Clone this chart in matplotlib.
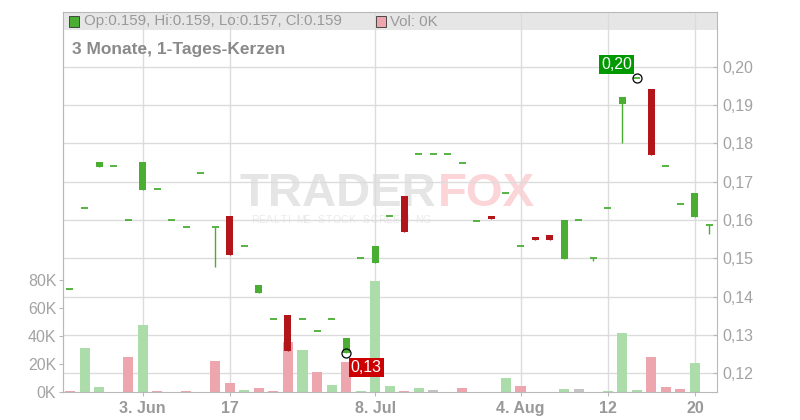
import numpy as np
import matplotlib
matplotlib.use("Agg")
import matplotlib.pyplot as plt
from matplotlib.patches import Rectangle
from matplotlib import transforms
from matplotlib.ticker import FuncFormatter

plt.rcParams['font.family'] = ['Liberation Sans', 'DejaVu Sans']

# --- data ---
opens = [0.1419, 0.1630, 0.1738, 0.1740, 0.1600, 0.1678, 0.1680, 0.1600, 0.1581, 0.1722,
         0.1581, 0.1610, 0.1531, 0.1410, 0.1341, 0.1352, 0.1341, 0.1310, 0.1341, 0.1252,
         0.1500, 0.1489, 0.1610, 0.1663, 0.1771, 0.1771, 0.1771, 0.1750, 0.1597, 0.1610,
         0.1670, 0.1531, 0.1556, 0.1561, 0.1498, 0.1599, 0.1500, 0.1630, 0.1902, 0.1970,
         0.1942, 0.1740, 0.1641, 0.1608, 0.1586]
closes = [0.1419, 0.1630, 0.1751, 0.1740, 0.1600, 0.1751, 0.1680, 0.1600, 0.1581, 0.1722,
          0.1581, 0.1509, 0.1531, 0.1430, 0.1341, 0.1259, 0.1341, 0.1310, 0.1341, 0.1292,
          0.1500, 0.1532, 0.1610, 0.1569, 0.1771, 0.1771, 0.1771, 0.1750, 0.1597, 0.1602,
          0.1670, 0.1531, 0.1548, 0.1548, 0.1600, 0.1599, 0.1500, 0.1630, 0.1921, 0.1970,
          0.1770, 0.1740, 0.1641, 0.1670, 0.1586]
highs = [0.1419, 0.1630, 0.1751, 0.1740, 0.1600, 0.1751, 0.1680, 0.1600, 0.1581, 0.1722,
         0.1581, 0.1610, 0.1531, 0.1430, 0.1341, 0.1352, 0.1341, 0.1310, 0.1341, 0.1292,
         0.1500, 0.1532, 0.1610, 0.1663, 0.1771, 0.1771, 0.1771, 0.1750, 0.1597, 0.1610,
         0.1670, 0.1531, 0.1556, 0.1561, 0.1600, 0.1599, 0.1500, 0.1630, 0.1921, 0.1970,
         0.1942, 0.1740, 0.1641, 0.1670, 0.1586]
lows = [0.1419, 0.1630, 0.1738, 0.1740, 0.1600, 0.1678, 0.1680, 0.1600, 0.1581, 0.1722,
        0.1478, 0.1509, 0.1531, 0.1410, 0.1341, 0.1259, 0.1341, 0.1310, 0.1341, 0.1252,
        0.1500, 0.1489, 0.1610, 0.1569, 0.1771, 0.1771, 0.1771, 0.1750, 0.1597, 0.1602,
        0.1670, 0.1531, 0.1548, 0.1548, 0.1498, 0.1599, 0.1494, 0.1630, 0.1800, 0.1970,
        0.1770, 0.1740, 0.1641, 0.1608, 0.1564]
volumes = [1.0, 31.6, 3.8, 0, 25.2, 48.0, 1.0, 0, 1.0, 0,
           22.4, 6.7, 1.7, 3.0, 1.0, 36.0, 30.2, 14.5, 5.2, 21.6,
           1.0, 79.5, 4.5, 1.0, 3.0, 1.7, 0, 3.0, 0, 0,
           10.2, 4.5, 0, 0, 2.3, 2.3, 0, 1.0, 42.4, 1.7,
           25.2, 3.8, 2.3, 21.0, 0]
volumes = [v * 1000 for v in volumes]
# u = up, d = down, n = unchanged
vol_dir = ['d', 'u', 'u', 'u', 'd', 'u', 'd', 'u', 'd', 'u',
           'd', 'd', 'u', 'd', 'd', 'd', 'u', 'd', 'u', 'd',
           'u', 'u', 'u', 'd', 'u', 'n', 'u', 'd', 'u', 'u',
           'u', 'd', 'u', 'u', 'u', 'n', 'u', 'u', 'u', 'u',
           'd', 'd', 'd', 'u', 'u']
tick_pos = [5, 11, 21, 31, 37, 43]
tick_labels = ['3. Jun', '17', '8. Jul', '4. Aug', '12', '20']
price_ticks = [0.12, 0.13, 0.14, 0.15, 0.16, 0.17, 0.18, 0.19, 0.20]
vol_ticks = [0, 20000, 40000, 60000, 80000]

GREEN = '#4aae33'
RED = '#b3161a'
VOL_COL = {'u': '#abdcaa', 'd': '#eda6ae', 'n': '#c4c4c4'}
GRID = '#dcdcdc'
SPINE = '#b8b8b8'
LABEL = '#a3a3a3'

PMIN, PMAX = 0.11504, 0.21427
VMAX = 271600

fig = plt.figure(figsize=(8, 4.2), dpi=100)
ax = fig.add_axes([63.3 / 800, 27.7 / 420, 653.4 / 800, 380.3 / 420])

x = np.arange(len(opens))
o = np.array(opens); c = np.array(closes); h = np.array(highs); l = np.array(lows)

ax.set_xlim(-0.46, 44.5)
ax.set_ylim(PMIN, PMAX)

# header band
ax.add_patch(Rectangle((0, 1 - 18 / 380.3), 1, 18 / 380.3, transform=ax.transAxes,
                       facecolor='#e6e6e6', edgecolor='none', zorder=0.2))

# watermark (inside the axes, under the grid)
ft = fig.transFigure
t1 = ax.text(240 / 800, 1 - 206 / 420, 'TRADER', transform=ft, fontsize=34, fontweight='bold',
             color='#e5e5e5', zorder=0.3, va='baseline', clip_on=False)
fig.canvas.draw()
bb = t1.get_window_extent()
ax.text(bb.x1 / 800 + 1 / 800, 1 - 206 / 420, 'FOX', transform=ft, fontsize=34,
        fontweight='bold', color='#fcd5d9', zorder=0.3, va='baseline', clip_on=False)
sub = 'REALTIME STOCK SCREENING'
for i, ch in enumerate(sub):
    ax.text((251 + i * 7.45) / 800, 1 - 223 / 420, ch, transform=ft, fontsize=7.5,
            color='#eaeaea', zorder=0.3, va='baseline', clip_on=False)

# volume bars, scaled on their own axis
vol_trans = transforms.blended_transform_factory(
    ax.transData, transforms.Affine2D().scale(1, 1 / VMAX) + ax.transAxes)
ax.bar(x, volumes, width=0.69, bottom=0, transform=vol_trans,
       color=[VOL_COL[d] for d in vol_dir], zorder=1)

# candles
cols = np.where(c < o, RED, GREEN)
ax.vlines(x, l, h, colors=cols, linewidth=1, zorder=2)
flat = np.isclose(o, c)
ax.bar(x[~flat], (c - o)[~flat], bottom=o[~flat], width=0.48, color=cols[~flat],
       linewidth=0, zorder=3)
ax.hlines(o[flat], x[flat] - 0.24, x[flat] + 0.24, colors=cols[flat], linewidth=1.3, zorder=3)

# high / low markers
ih = int(np.argmax(h)); il = int(np.argmin(l))
ax.plot([ih], [h[ih]], 'o', ms=6.5, mfc='none', mec='black', mew=0.9, zorder=4)
ax.plot([il], [l[il]], 'o', ms=6.5, mfc='none', mec='black', mew=0.9, zorder=4)
ax.annotate(f"{h[ih]:.2f}".replace('.', ','), (ih, h[ih]), xytext=(-20, 14),
            textcoords='offset pixels', ha='center', va='center', color='white', fontsize=11.5,
            bbox=dict(boxstyle='square,pad=0.12', fc='#009a00', ec='none'), zorder=5)
ax.annotate(f"{l[il]:.2f}".replace('.', ','), (il, l[il]), xytext=(20, -14),
            textcoords='offset pixels', ha='center', va='center', color='white', fontsize=11.5,
            bbox=dict(boxstyle='square,pad=0.12', fc='#cc0000', ec='none'), zorder=5)

# axes styling
ax.set_axisbelow(True)
ax.grid(True, color=GRID, linewidth=1, zorder=0.5)
for s in ax.spines.values():
    s.set_color(SPINE)
ax.yaxis.tick_right()
ax.set_yticks(price_ticks)
ax.yaxis.set_major_formatter(FuncFormatter(lambda v, p: f"{v:.2f}".replace('.', ',')))
ax.tick_params(axis='y', direction='in', length=3, color=SPINE, labelcolor=LABEL,
               labelsize=11.5, pad=4)
ax.set_xticks(tick_pos)
ax.set_xticklabels(tick_labels, fontweight='bold')
ax.tick_params(axis='x', direction='out', length=3, color=SPINE, labelcolor='#999999',
               labelsize=11.5, pad=3)

def p2v(p):
    return (p - PMIN) / (PMAX - PMIN) * VMAX

def v2p(v):
    return PMIN + v / VMAX * (PMAX - PMIN)

vax = ax.secondary_yaxis('left', functions=(p2v, v2p))
vax.set_yticks(vol_ticks)
vax.yaxis.set_major_formatter(FuncFormatter(lambda v, p: f"{v / 1000:.0f}K"))
vax.tick_params(direction='out', length=3, color=SPINE, labelcolor=LABEL, labelsize=11.5, pad=2)
vax.spines['left'].set_color(SPINE)

# header legend + title
fig.patches.append(Rectangle((68.5 / 800, 1 - 26.5 / 420), 10 / 800, 10 / 420,
                             transform=fig.transFigure, fc=GREEN, ec='#333333', lw=0.6))
fig.text(84 / 800, 1 - 21.5 / 420, 'Op:0.159, Hi:0.159, Lo:0.157, Cl:0.159',
         color='#999999', fontsize=10.8, va='center')
fig.patches.append(Rectangle((376 / 800, 1 - 26.5 / 420), 10 / 800, 10 / 420,
                             transform=fig.transFigure, fc='#eda6ae', ec='#333333', lw=0.6))
fig.text(390 / 800, 1 - 21.5 / 420, 'Vol: 0K', color='#999999', fontsize=10.8, va='center')
fig.text(72 / 800, 1 - 54 / 420, '3 Monate, 1-Tages-Kerzen', color='#8a8a8a',
         fontsize=12.5, fontweight='bold', va='baseline')

fig.savefig('out.png', dpi=100)
